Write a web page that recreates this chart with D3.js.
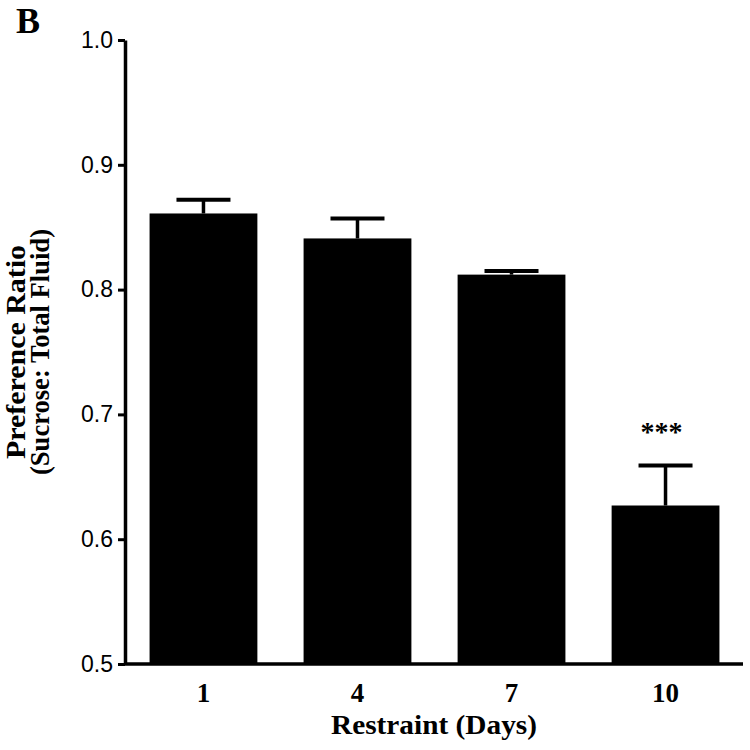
<!DOCTYPE html>
<html lang="en">
<head>
    <meta charset="UTF-8">
    <title>Preference Ratio by Restraint Days</title>
    <script src="https://d3js.org/d3.v7.min.js"></script>
    <style>
        body { margin: 0; background: #fff; }
    </style>
</head>
<body>
    <div id="chart"></div>

    <script>
        // data
        const days = ["1", "4", "7", "10"];
        const means = [0.861, 0.841, 0.812, 0.627];
        const sems = [0.011, 0.016, 0.003, 0.032];
        const yTicks = [0.5, 0.6, 0.7, 0.8, 0.9, 1.0];
        const stars = ["", "", "", "***"];

        const width = 750;
        const height = 750;
        const serif = "'Liberation Serif', 'Times New Roman', serif";
        const sans = "'Liberation Sans', Arial, sans-serif";

        const svg = d3.select("#chart")
            .append("svg")
            .attr("width", width)
            .attr("height", height);

        const x = d3.scaleBand()
            .domain(days)
            .range([126, 743])
            .paddingInner(0.3)
            .paddingOuter(0.153);

        const y = d3.scaleLinear()
            .domain([0.5, 1.0])
            .range([664, 40]);

        const rows = days.map((d, i) => ({ day: d, mean: means[i], sem: sems[i], star: stars[i] }));

        // bars
        svg.selectAll("rect.bar")
            .data(rows)
            .enter()
            .append("rect")
            .attr("class", "bar")
            .attr("x", d => x(d.day))
            .attr("y", d => y(d.mean))
            .attr("width", x.bandwidth())
            .attr("height", d => y(0.5) - y(d.mean))
            .attr("fill", "#000");

        // error bars (upper only)
        const err = svg.selectAll("g.err")
            .data(rows)
            .enter()
            .append("g")
            .attr("class", "err");

        err.append("line")
            .attr("x1", d => x(d.day) + x.bandwidth() / 2)
            .attr("x2", d => x(d.day) + x.bandwidth() / 2)
            .attr("y1", d => y(d.mean))
            .attr("y2", d => y(d.mean + d.sem))
            .attr("stroke", "#000")
            .attr("stroke-width", 3.5);

        err.append("line")
            .attr("x1", d => x(d.day) + x.bandwidth() / 2 - 27)
            .attr("x2", d => x(d.day) + x.bandwidth() / 2 + 27)
            .attr("y1", d => y(d.mean + d.sem))
            .attr("y2", d => y(d.mean + d.sem))
            .attr("stroke", "#000")
            .attr("stroke-width", 4);

        // significance stars
        svg.selectAll("text.star")
            .data(rows.filter(d => d.star))
            .enter()
            .append("text")
            .attr("class", "star")
            .attr("x", d => x(d.day) + x.bandwidth() / 2 - 4)
            .attr("y", d => y(d.mean + d.sem) - 25)
            .attr("text-anchor", "middle")
            .attr("font-family", serif)
            .attr("font-weight", "bold")
            .attr("font-size", "28px")
            .text(d => d.star);

        // y axis
        const yAxis = svg.append("g")
            .attr("transform", "translate(125,0)")
            .call(d3.axisLeft(y).tickValues(yTicks).tickFormat(d3.format(".1f")).tickSize(7).tickSizeOuter(0).tickPadding(5));
        yAxis.select(".domain").attr("stroke-width", 3.5);
        yAxis.selectAll(".tick line").attr("stroke-width", 3);
        yAxis.selectAll(".tick text")
            .attr("font-family", sans)
            .attr("font-size", "23px")
            .attr("fill", "#000");

        // x axis
        const xAxis = svg.append("g")
            .attr("transform", "translate(0,664)")
            .call(d3.axisBottom(x).tickSize(0).tickSizeOuter(0).tickPadding(19));
        xAxis.select(".domain")
            .attr("d", "M124,0H743")
            .attr("stroke-width", 3.5);
        xAxis.selectAll(".tick text")
            .attr("font-family", serif)
            .attr("font-weight", "bold")
            .attr("font-size", "27px")
            .attr("fill", "#000");

        // axis titles
        svg.append("text")
            .attr("x", 434)
            .attr("y", 734)
            .attr("text-anchor", "middle")
            .attr("font-family", serif)
            .attr("font-weight", "bold")
            .attr("font-size", "28px")
            .attr("textLength", 206)
            .attr("lengthAdjust", "spacingAndGlyphs")
            .text("Restraint (Days)");

        const yTitle = svg.append("text")
            .attr("transform", "translate(3,352) rotate(-90)")
            .attr("text-anchor", "middle")
            .attr("font-family", serif)
            .attr("font-weight", "bold")
            .attr("font-size", "28px");
        yTitle.append("tspan").attr("x", 0).attr("y", 22)
            .attr("textLength", 214).attr("lengthAdjust", "spacingAndGlyphs")
            .text("Preference Ratio");
        yTitle.append("tspan").attr("x", 0).attr("y", 46)
            .attr("textLength", 246).attr("lengthAdjust", "spacingAndGlyphs")
            .text("(Sucrose: Total Fluid)");

        // panel letter
        svg.append("text")
            .attr("x", 16)
            .attr("y", 33)
            .attr("font-family", serif)
            .attr("font-weight", "bold")
            .attr("font-size", "36px")
            .text("B");
    </script>
</body>
</html>
